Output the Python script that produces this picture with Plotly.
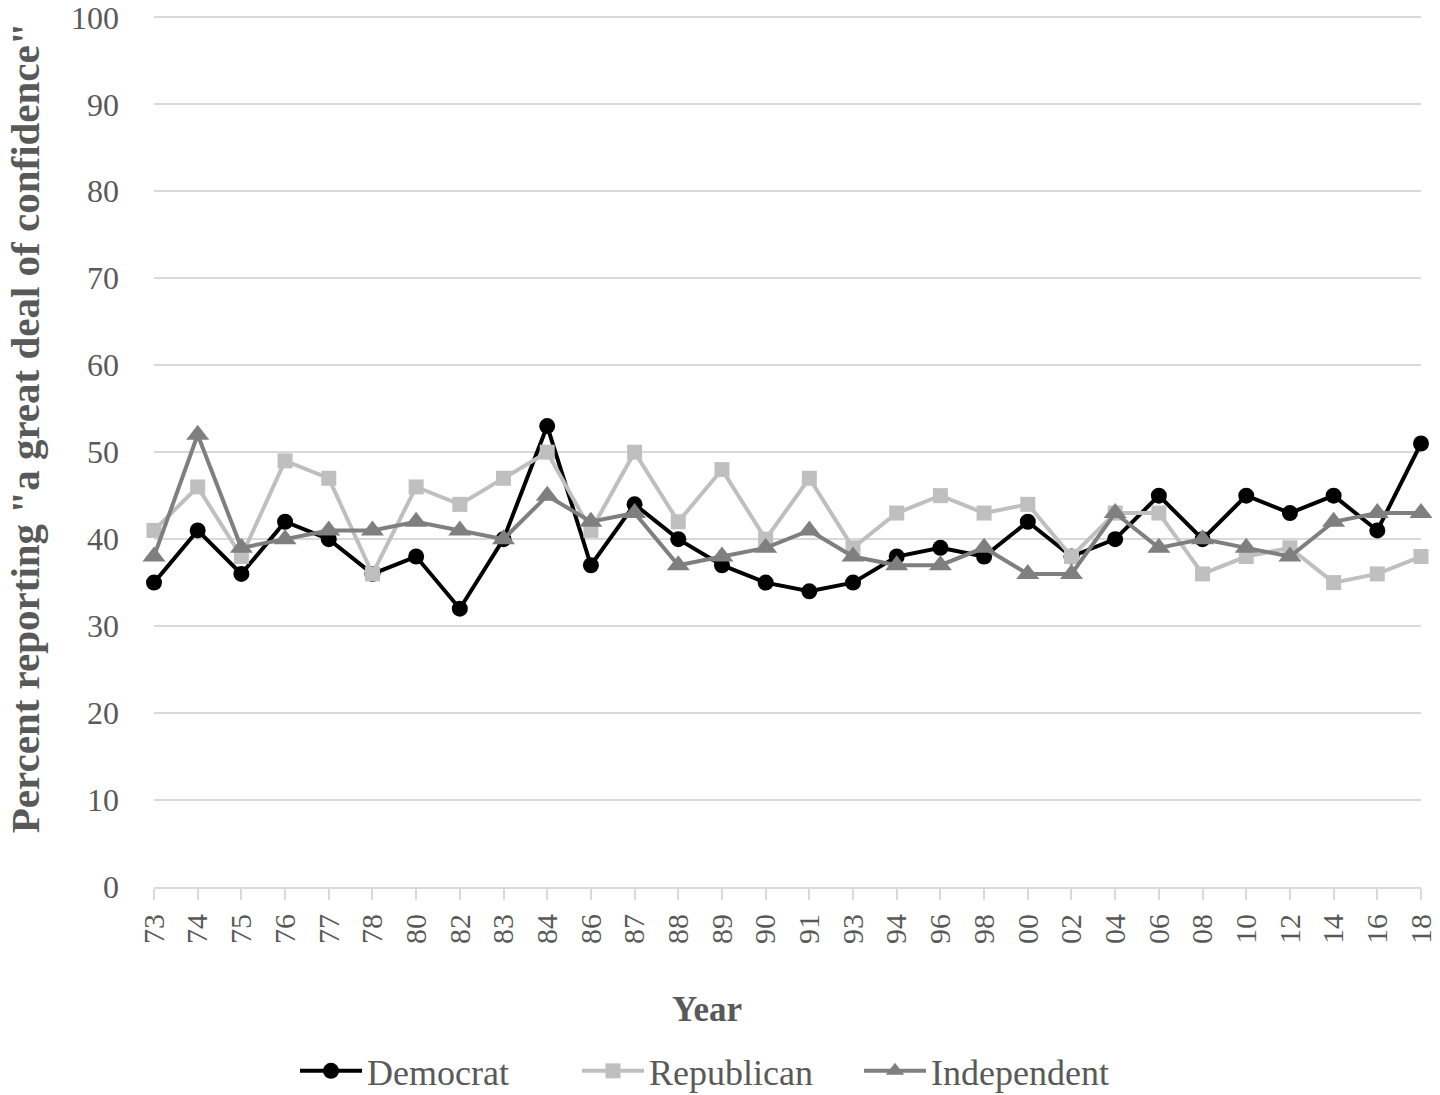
import plotly.graph_objects as go

years = ["73", "74", "75", "76", "77", "78", "80", "82", "83", "84", "86", "87", "88", "89", "90",
         "91", "93", "94", "96", "98", "00", "02", "04", "06", "08", "10", "12", "14", "16", "18"]

democrat = [35, 41, 36, 42, 40, 36, 38, 32, 40, 53, 37, 44, 40, 37, 35,
            34, 35, 38, 39, 38, 42, 38, 40, 45, 40, 45, 43, 45, 41, 51]
republican = [41, 46, 38, 49, 47, 36, 46, 44, 47, 50, 41, 50, 42, 48, 40,
              47, 39, 43, 45, 43, 44, 38, 43, 43, 36, 38, 39, 35, 36, 38]
independent = [38, 52, 39, 40, 41, 41, 42, 41, 40, 45, 42, 43, 37, 38, 39,
               41, 38, 37, 37, 39, 36, 36, 43, 39, 40, 39, 38, 42, 43, 43]

yticks = [0, 10, 20, 30, 40, 50, 60, 70, 80, 90, 100]

FONT = "Liberation Serif, Times New Roman, serif"
TXT = "#595959"

W, H = 1440, 1095
OFF = 8                      # default page body margin
YMAX = 100.5
PXU = 8.7                    # pixels per unit in the reference
plot_bottom = 887 - OFF
plot_top = plot_bottom - YMAX * PXU
L = 154 - OFF
R = W - (1421 - OFF)
T = plot_top
B = H - plot_bottom
PW, PH = W - L - R, H - T - B


def px(xs):
    return (xs - OFF - L) / PW


def py(ys):
    return (plot_bottom - (ys - OFF)) / PH


fig = go.Figure()
fig.add_trace(go.Scatter(
    x=years, y=democrat, name="Democrat", mode="lines+markers",
    line=dict(color="#000000", width=4),
    marker=dict(symbol="circle", size=16, color="#000000"),
    cliponaxis=False))
fig.add_trace(go.Scatter(
    x=years, y=republican, name="Republican", mode="lines+markers",
    line=dict(color="#bfbfbf", width=4),
    marker=dict(symbol="square", size=15, color="#bfbfbf"),
    cliponaxis=False))
fig.add_trace(go.Scatter(
    x=years, y=independent, name="Independent", mode="lines+markers",
    line=dict(color="#7f7f7f", width=4),
    marker=dict(symbol="triangle-up", size=20, color="#7f7f7f"),
    cliponaxis=False))

fig.update_layout(
    width=W, height=H,
    margin=dict(l=L, r=R, t=T, b=B, autoexpand=False),
    paper_bgcolor="white", plot_bgcolor="white",
    font=dict(family=FONT, color=TXT),
    showlegend=True,
    legend=dict(orientation="h", xref="paper", x=px(718), xanchor="center",
                yref="paper", y=py(1071), yanchor="middle",
                font=dict(size=36, family=FONT, color=TXT),
                itemwidth=62, entrywidth=205, entrywidthmode="pixels",
                tracegroupgap=0),
    xaxis=dict(type="category", range=[0, len(years) - 1], automargin=False,
               showgrid=False, showline=True, linecolor="#d9d9d9", linewidth=2,
               ticks="outside", ticklen=11, tickcolor="#d9d9d9", tickwidth=2,
               tickangle=-90, tickfont=dict(size=30, family=FONT, color=TXT),
               ticklabelstandoff=2, zeroline=False, ticklabeloverflow="allow"),
    yaxis=dict(range=[0, YMAX], tickmode="array", tickvals=yticks,
               ticktext=[str(v) for v in yticks], showgrid=True, automargin=False,
               gridcolor="#d9d9d9", gridwidth=2, zeroline=False, showline=False,
               ticks="", tickfont=dict(size=32, family=FONT, color=TXT),
               ticklabelstandoff=34, ticklabeloverflow="allow"),
    annotations=[
        dict(text="<b>Percent reporting \"a great deal of confidence\"</b>",
             xref="paper", yref="paper", x=px(25), y=py(428),
             xanchor="center", yanchor="middle", textangle=-90, showarrow=False,
             font=dict(size=41, family=FONT, color=TXT)),
        dict(text="<b>Year</b>", xref="paper", yref="paper",
             x=px(707), y=py(1010),
             xanchor="center", yanchor="middle", showarrow=False,
             font=dict(size=35, family=FONT, color=TXT)),
    ],
)

fig.write_html("out.html")
